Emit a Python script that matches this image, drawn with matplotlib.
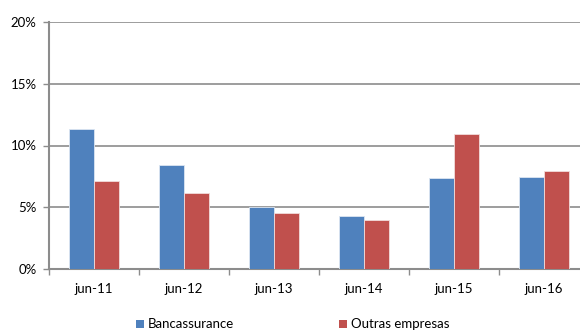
import matplotlib
matplotlib.use("Agg")
import matplotlib.pyplot as plt
import numpy as np
from matplotlib.patches import Rectangle

categories = ["jun-11", "jun-12", "jun-13", "jun-14", "jun-15", "jun-16"]
bancassurance = [11.35, 8.42, 5.0, 4.32, 7.35, 7.47]
outras_empresas = [7.13, 6.15, 4.53, 3.99, 10.93, 7.91]
series_names = ["Bancassurance", "Outras empresas"]
y_ticks = [0, 5, 10, 15, 20]
y_tick_labels = ["0%", "5%", "10%", "15%", "20%"]

BLUE = "#4F81BD"
RED = "#C0504D"
GRID = "#8C8C8C"
FS = 9.5

plt.rcParams["font.family"] = ["Lato", "DejaVu Sans"]

fig = plt.figure(figsize=(5.8, 3.31), dpi=100)
ax = fig.add_axes([49 / 580, 62 / 331, 540 / 580, 247 / 331])

x = np.arange(len(categories))
w = 0.28
ax.bar(x - w / 2, bancassurance, width=w, color=BLUE, edgecolor="#DCE6F2",
       linewidth=0.6, zorder=3)
ax.bar(x + w / 2, outras_empresas, width=w, color=RED, edgecolor="#F2DCDB",
       linewidth=0.6, zorder=3)

ax.set_xlim(-0.5, len(categories) - 0.5)
ax.set_ylim(0, 20)
ax.set_yticks(y_ticks)
ax.set_yticklabels(y_tick_labels)
ax.yaxis.grid(True, color=GRID, linewidth=1.2, zorder=0)
ax.set_axisbelow(True)

# category labels centred, tick marks on category boundaries
ax.set_xticks(x)
ax.set_xticklabels(categories)
ax.tick_params(axis="x", which="major", length=0, pad=10, labelsize=FS, colors="#000000")
ax.set_xticks(np.arange(len(categories) + 1) - 0.5, minor=True)
ax.tick_params(axis="x", which="minor", length=4, width=1, color=GRID, direction="out")
ax.tick_params(axis="y", length=4, width=1, color=GRID, direction="out", pad=5,
               labelsize=FS)

for side in ("top", "right"):
    ax.spines[side].set_visible(False)
for side in ("left", "bottom"):
    ax.spines[side].set_color(GRID)
    ax.spines[side].set_linewidth(1.5)

# legend row along the bottom edge of the figure
legend_y = 7 / 331
for (sx, tx), name, color in zip([(136, 148), (339, 351)], series_names, [BLUE, RED]):
    fig.add_artist(Rectangle((sx / 580, legend_y - 4 / 331), 8 / 580, 8 / 331,
                             transform=fig.transFigure, facecolor=color,
                             edgecolor="none"))
    fig.text(tx / 580, legend_y, name, fontsize=FS, va="center", ha="left")

fig.savefig("out.png", dpi=100)
